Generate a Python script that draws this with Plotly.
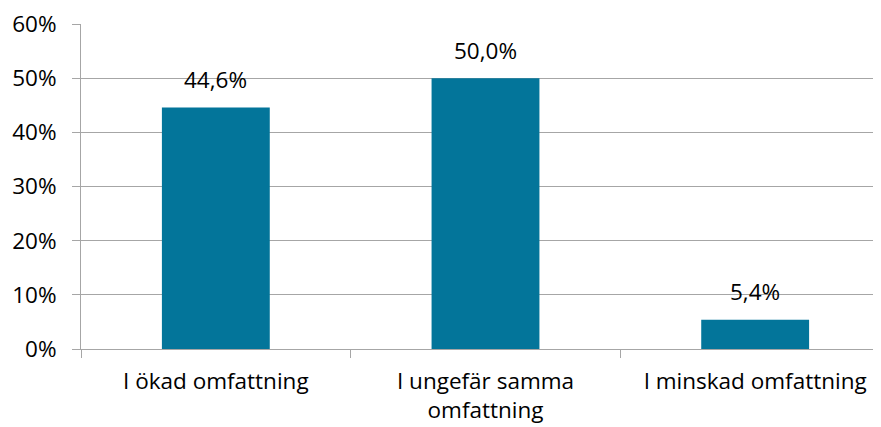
import plotly.graph_objects as go

categories = ["I ökad omfattning", "I ungefär samma<br>omfattning", "I minskad omfattning"]
values = [44.6, 50.0, 5.4]
y_ticks = [0, 10, 20, 30, 40, 50, 60]

bar_color = "#03759A"
grid_color = "#A6A6A6"
font_family = "Open Sans, Liberation Sans, sans-serif"
fsize = 22.5

labels = [f"{v:.1f}%".replace(".", ",") for v in values]

fig = go.Figure()
fig.add_trace(go.Bar(
    x=categories, y=values, width=0.4,
    marker=dict(color=bar_color, line=dict(width=0)),
    hoverinfo="skip",
))

for c, v, t in zip(categories, values, labels):
    fig.add_annotation(x=c, y=v, text=t, showarrow=False, yanchor="middle",
                       yshift=28, font=dict(size=fsize, color="#000000", family=font_family))

# page body has an 8px margin; figure is shifted by 8px right and down
fig.update_layout(
    width=882, height=419,
    margin=dict(l=73, r=0, t=16, b=78, autoexpand=False),
    paper_bgcolor="white", plot_bgcolor="white",
    showlegend=False,
    font=dict(family=font_family, size=fsize, color="#000000"),
)
fig.update_xaxes(
    type="category",
    range=[-0.5, 2.5],
    tickson="boundaries",
    ticks="outside", ticklen=8, tickcolor=grid_color, tickwidth=1,
    ticklabelstandoff=12,
    showline=True, linecolor=grid_color, linewidth=1,
    showgrid=False,
    tickfont=dict(size=fsize, color="#000000"),
)
fig.update_yaxes(
    range=[0, 60],
    tickvals=y_ticks,
    ticktext=[f"{t}%" for t in y_ticks],
    ticks="outside", ticklen=8, tickcolor=grid_color, tickwidth=1,
    ticklabelstandoff=11,
    ticklabeloverflow="allow",
    showline=True, linecolor=grid_color, linewidth=1,
    showgrid=True, gridcolor=grid_color, gridwidth=1,
    zeroline=False,
    tickfont=dict(size=fsize, color="#000000"),
)

fig.write_html("out.html")
